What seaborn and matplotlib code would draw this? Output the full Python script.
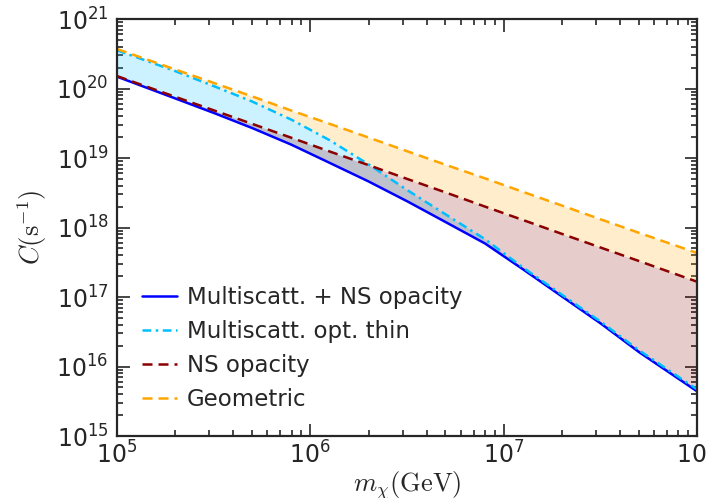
import numpy as np
import seaborn as sns
import matplotlib
matplotlib.use("Agg")
import matplotlib.pyplot as plt

# dark matter mass (GeV)
mass = [1.0e5, 2.0e5, 3.2e5, 5.0e5, 8.0e5, 1.26e6, 2.0e6, 3.2e6,
        5.0e6, 8.0e6, 1.26e7, 2.0e7, 3.2e7, 5.0e7, 1.0e8]

# capture rates C (s^-1)
multiscatt_ns = [1.48e20, 7.2e19, 4.4e19, 2.7e19, 1.55e19, 8.5e18, 4.6e18, 2.35e18,
                 1.2e18, 5.9e17, 2.5e17, 1.02e17, 4.1e16, 1.62e16, 4.4e15]
multiscatt_thin = [3.55e20, 1.78e20, 1.07e20, 6.5e19, 3.55e19, 1.8e19, 8.1e18, 3.4e18,
                   1.55e18, 6.8e17, 2.65e17, 1.08e17, 4.35e16, 1.72e16, 4.7e15]
ns_opacity = [1.51e20, 7.6e19, 4.8e19, 3.1e19, 1.95e19, 1.24e19, 7.9e18, 4.95e18,
              3.2e18, 2.0e18, 1.28e18, 8.1e17, 5.1e17, 3.3e17, 1.66e17]
geometric = [3.7e20, 1.88e20, 1.19e20, 7.7e19, 4.8e19, 3.1e19, 1.97e19, 1.24e19,
             8.0e18, 5.1e18, 3.25e18, 2.07e18, 1.3e18, 8.4e17, 4.3e17]

labels = ["Multiscatt. + NS opacity", "Multiscatt. opt. thin", "NS opacity", "Geometric"]

sns.set_style("ticks")
plt.rcParams['mathtext.fontset'] = 'cm'
plt.rcParams['font.family'] = ['DejaVu Sans']

fig = plt.figure(figsize=(7.08, 4.98), dpi=100)
ax = fig.add_axes([117 / 708, 62 / 498, 580 / 708, 417 / 498])

m = np.array(mass)
blue = np.array(multiscatt_ns)
cyan = np.array(multiscatt_thin)
red = np.array(ns_opacity)
orng = np.array(geometric)

# shaded bands
ax.fill_between(m, blue, cyan, color='deepskyblue', alpha=0.2, lw=0)
ax.fill_between(m, blue, red, color='darkred', alpha=0.2, lw=0)
ax.fill_between(m, np.maximum(cyan, red), orng, color='orange', alpha=0.2, lw=0)

dash = (0, (4, 2.4))
dashdot = (0, (3.5, 1.8, 1, 1.8))
sns.lineplot(x=m, y=blue, ax=ax, color='blue', lw=1.8, label=labels[0])
sns.lineplot(x=m, y=cyan, ax=ax, color='deepskyblue', lw=1.8, linestyle=dashdot, label=labels[1])
sns.lineplot(x=m, y=red, ax=ax, color='darkred', lw=1.8, linestyle=dash, label=labels[2])
sns.lineplot(x=m, y=orng, ax=ax, color='orange', lw=1.8, linestyle=dash, label=labels[3])

ax.set_xscale('log')
ax.set_yscale('log')
ax.set_xlim(1e5, 1e8)
ax.set_ylim(1e15, 1e21)

ax.set_xlabel(r'$m_\chi(\mathrm{GeV})$', fontsize=19, labelpad=0)
ax.set_ylabel(r'$C(\mathrm{s}^{-1})$', fontsize=19, labelpad=5)

for s in ax.spines.values():
    s.set_linewidth(1.6)
    s.set_visible(True)
ax.tick_params(which='both', direction='in', top=True, right=True, width=1.2)
ax.tick_params(which='major', length=9, labelsize=17)
ax.tick_params(axis='x', which='major', pad=4)
ax.tick_params(axis='y', which='major', pad=6)
ax.tick_params(which='minor', length=4.5)

ax.legend(loc='lower left', frameon=False, fontsize=16.5, handlelength=1.5,
          handletextpad=0.45, labelspacing=0.47, borderaxespad=0.7)

fig.savefig('out.png', dpi=100)
